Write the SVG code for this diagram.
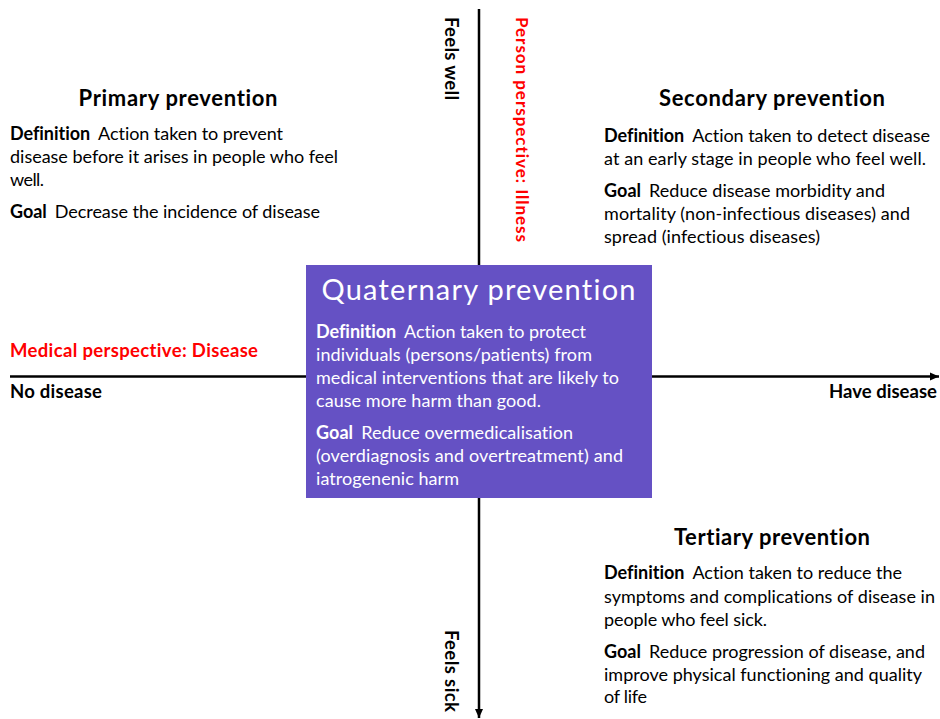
<svg xmlns="http://www.w3.org/2000/svg" width="940" height="719" viewBox="0 0 940 719">
  <style>
    text { font-family: Lato, "Liberation Sans", sans-serif; fill: #000; font-variant-ligatures: none; }
    .title { font-size: 22px; font-weight: bold; text-anchor: middle; }
    .body { font-size: 18px; }
    .b { font-weight: bold; }
    .axis-label { font-size: 18.5px; font-weight: bold; }
    .small { font-size: 17px; }
    .red { fill: #FF0000; }
    .white { fill: #FFFFFF; }
    .qtitle { font-size: 29px; text-anchor: middle; fill: #FFFFFF; }
    .axis { stroke: #000; stroke-width: 2.5; fill: none; }
  </style>
  <defs>
    <marker id="arrow" markerUnits="userSpaceOnUse" markerWidth="10" markerHeight="10" refX="9" refY="5" orient="auto">
      <path d="M0,1 L9,5 L0,9 Z" fill="#000"/>
    </marker>
  </defs>

  <!-- axes -->
  <g id="connectors">
    <line class="axis" x1="10" y1="376.5" x2="939" y2="376.5" marker-end="url(#arrow)"/>
    <line class="axis" x1="479" y1="9" x2="479" y2="718" marker-end="url(#arrow)"/>
  </g>

  <!-- axis labels -->
  <g id="axis-labels">
    <text class="axis-label red" x="10" y="357" textLength="248">Medical perspective: Disease</text>
    <text class="axis-label" x="10" y="398" textLength="92">No disease</text>
    <text class="axis-label" x="829" y="398" textLength="108">Have disease</text>
    <text class="axis-label" transform="translate(445,17) rotate(90)" textLength="83">Feels well</text>
    <text class="axis-label small red" transform="translate(516,17) rotate(90)" textLength="225">Person perspective: Illness</text>
    <text class="axis-label" transform="translate(445,630) rotate(90)" textLength="82">Feels sick</text>
  </g>

  <!-- primary prevention -->
  <g id="primary">
    <text class="title" x="178" y="106" textLength="199">Primary prevention</text>
    <text class="body" x="10" y="140" textLength="273"><tspan class="b">Definition</tspan><tspan dx="8">Action taken to prevent</tspan></text>
    <text class="body" x="10" y="163" textLength="328">disease before it arises in people who feel</text>
    <text class="body" x="10" y="186" textLength="34">well.</text>
    <text class="body" x="10" y="218" textLength="310"><tspan class="b">Goal</tspan><tspan dx="8">Decrease the incidence of disease</tspan></text>
  </g>

  <!-- secondary prevention -->
  <g id="secondary">
    <text class="title" x="772" y="106" textLength="226">Secondary prevention</text>
    <text class="body" x="604" y="142" textLength="326"><tspan class="b">Definition</tspan><tspan dx="8">Action taken to detect disease</tspan></text>
    <text class="body" x="604" y="165" textLength="322">at an early stage in people who feel well.</text>
    <text class="body" x="604" y="197" textLength="281"><tspan class="b">Goal</tspan><tspan dx="8">Reduce disease morbidity and</tspan></text>
    <text class="body" x="604" y="220" textLength="306">mortality (non-infectious diseases) and</text>
    <text class="body" x="604" y="243" textLength="216">spread (infectious diseases)</text>
  </g>

  <!-- quaternary prevention -->
  <g id="quaternary">
    <rect x="306" y="265" width="346" height="233" fill="#6551C4"/>
    <text class="qtitle" x="478.5" y="300" textLength="314">Quaternary prevention</text>
    <text class="body white" x="316" y="338" textLength="270"><tspan class="b white">Definition</tspan><tspan class="white" dx="8">Action taken to protect</tspan></text>
    <text class="body white" x="316" y="361" textLength="276">individuals (persons/patients) from</text>
    <text class="body white" x="316" y="384" textLength="303">medical interventions that are likely to</text>
    <text class="body white" x="316" y="407" textLength="225">cause more harm than good.</text>
    <text class="body white" x="316" y="439" textLength="257"><tspan class="b white">Goal</tspan><tspan class="white" dx="8">Reduce overmedicalisation</tspan></text>
    <text class="body white" x="316" y="462" textLength="307">(overdiagnosis and overtreatment) and</text>
    <text class="body white" x="316" y="485" textLength="143">iatrogenenic harm</text>
  </g>

  <!-- tertiary prevention -->
  <g id="tertiary">
    <text class="title" x="772" y="545" textLength="196">Tertiary prevention</text>
    <text class="body" x="604" y="579" textLength="298"><tspan class="b">Definition</tspan><tspan dx="8">Action taken to reduce the</tspan></text>
    <text class="body" x="604" y="603" textLength="331">symptoms and complications of disease in</text>
    <text class="body" x="604" y="626" textLength="163">people who feel sick.</text>
    <text class="body" x="604" y="658" textLength="321"><tspan class="b">Goal</tspan><tspan dx="8">Reduce progression of disease, and</tspan></text>
    <text class="body" x="604" y="681" textLength="318">improve physical functioning and quality</text>
    <text class="body" x="604" y="703" textLength="43">of life</text>
  </g>
</svg>
